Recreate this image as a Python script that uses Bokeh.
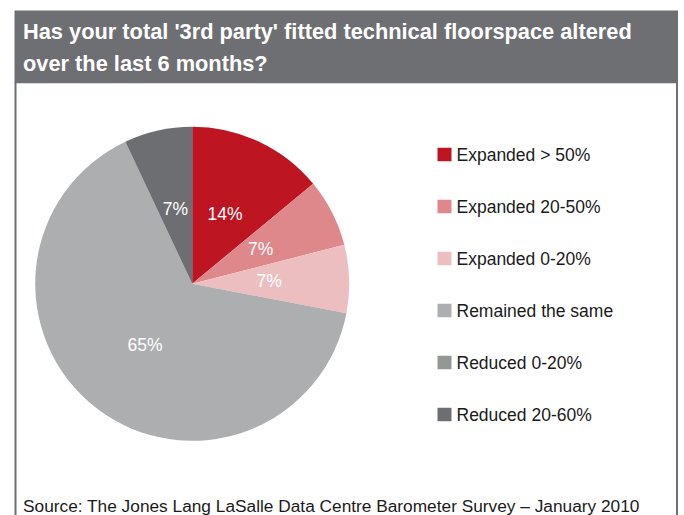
import numpy as np
from bokeh.plotting import figure
from bokeh.models import Range1d, ColumnDataSource
from bokeh.core.properties import value
from bokeh.embed import file_html
from bokeh.resources import INLINE

# ---- data ----
categories = ["Expanded > 50%", "Expanded 20-50%", "Expanded 0-20%",
              "Remained the same", "Reduced 0-20%", "Reduced 20-60%"]
shares = [14, 7, 7, 65, 0, 7]
colors = ["#bd1521", "#de888c", "#ecbec0", "#adaeb0", "#939894", "#6c6e72"]
title_lines = ["Has your total '3rd party' fitted technical floorspace altered",
               "over the last 6 months?"]
source_text = "Source: The Jones Lang LaSalle Data Centre Barometer Survey \u2013 January 2010"

FONT = "Liberation Sans"

W, H = 684, 515
def Y(ypx):
    return H - ypx

p = figure(width=W, height=H, x_range=Range1d(0, W), y_range=Range1d(0, H),
           output_backend="svg", toolbar_location=None, min_border=0)
p.axis.visible = False
p.grid.visible = False
p.outline_line_color = None
p.background_fill_color = "white"
p.border_fill_color = "white"

GREY = "#6d6f73"
# title bar
p.quad(left=[14], right=[677.5], top=[Y(10)], bottom=[Y(82.7)], fill_color=GREY, line_color=None)
# frame side lines
p.segment(x0=[15, 676.5], y0=[Y(82), Y(82)], x1=[15, 676.5], y1=[Y(H + 2), Y(H + 2)],
          line_color=GREY, line_width=2)

# title text
p.text(x=[22.5, 22.5], y=[Y(30.5), Y(62.9)], text=title_lines,
       text_font=value(FONT), text_font_size=value("21.8px"), text_font_style="bold",
       text_color="white", text_baseline="middle", text_align="left")

# ---- pie ----
cx, cy, R = 191.7, Y(283.3), 157
vals = np.array(shares, dtype=float)
cum = np.concatenate([[0], np.cumsum(vals)])
tot = vals.sum()
start_cw = cum[:-1] / tot * 360.0
end_cw = cum[1:] / tot * 360.0
nz = [i for i, v in enumerate(shares) if v > 0]
src = ColumnDataSource(dict(
    start=[np.deg2rad(90 - end_cw[i]) for i in nz],
    end=[np.deg2rad(90 - start_cw[i]) for i in nz],
    color=[colors[i] for i in nz],
    cat=[categories[i] for i in nz]))
p.wedge(x=cx, y=cy, radius=R, start_angle="start", end_angle="end",
        direction="anticlock", fill_color="color", line_color=None, source=src)

mid = np.deg2rad((start_cw + end_cw) / 2)
lr = 0.49 * R
p.text(x=[cx + lr * np.sin(mid[i]) for i in nz],
       y=[cy + lr * np.cos(mid[i]) for i in nz],
       text=[f"{shares[i]}%" for i in nz],
       text_font=value(FONT), text_font_size=value("17.5px"),
       text_color="white", text_align="center", text_baseline="middle")

# ---- legend ----
leg_y = [Y(154 + 52 * i) for i in range(len(categories))]
p.rect(x=[444] * len(categories), y=leg_y, width=14, height=13.5,
       fill_color=colors, line_color=None)
p.text(x=[456] * len(categories), y=leg_y, text=categories,
       text_font=value(FONT), text_font_size=value("17.5px"),
       text_color="#1a1a1a", text_align="left", text_baseline="middle")

# ---- source ----
p.text(x=[22.5], y=[Y(505)], text=[source_text],
       text_font=value(FONT), text_font_size=value("17.3px"),
       text_color="#1a1a1a", text_align="left", text_baseline="middle")

open("out.html", "w").write(file_html(p, INLINE))
